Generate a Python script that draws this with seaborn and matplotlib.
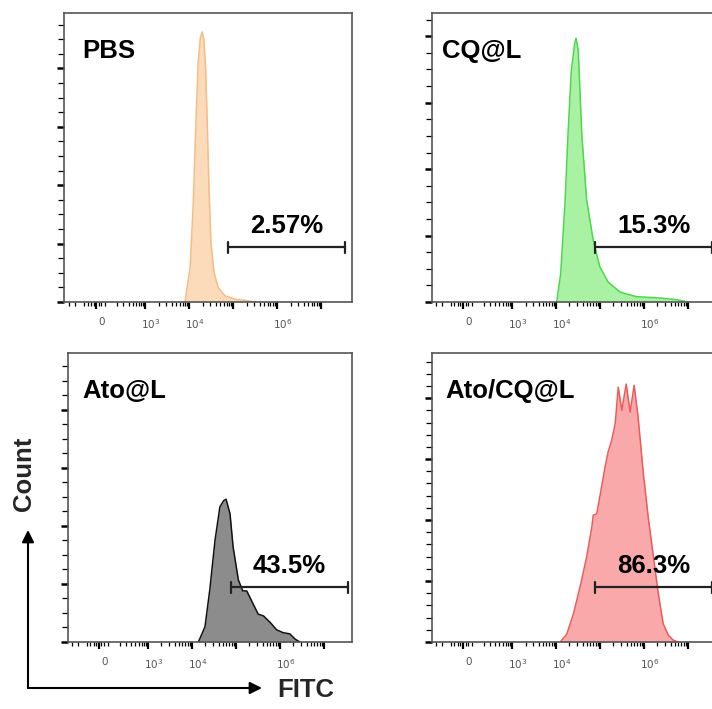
import numpy as np
import pandas as pd
import matplotlib
matplotlib.use("Agg")
import matplotlib.pyplot as plt
from matplotlib.patches import FancyArrowPatch
from matplotlib.ticker import MultipleLocator
from matplotlib.transforms import ScaledTranslation
import seaborn as sns

pbs_log = [3.90, 4.02, 4.09, 4.15, 4.20, 4.25, 4.29, 4.33, 4.37, 4.41, 4.45, 4.49, 4.56, 4.65, 4.81, 5.04, 5.38, 5.49]
pbs_count = [0, 120, 343, 617, 820, 905, 925, 900, 800, 600, 377, 206, 103, 51, 21, 10, 3, 0]

cq_log = [4.01, 4.10, 4.20, 4.27, 4.34, 4.42, 4.45, 4.50, 4.58, 4.69, 4.84, 4.99, 5.18, 5.45, 5.60, 5.83, 6.36, 6.74, 7.00]
cq_count = [0, 42, 150, 256, 346, 390, 397, 379, 253, 154, 93, 53, 30, 15, 12, 8, 6, 3.5, 0]

ato_log = [4.14, 4.29, 4.40, 4.52, 4.63, 4.72, 4.77, 4.86, 4.93, 5.05, 5.15, 5.24, 5.39, 5.50, 5.62, 5.77, 5.92, 6.07, 6.22, 6.34, 6.45]
ato_count = [0, 26, 90, 176, 233, 244, 246, 221, 164, 107, 88, 88, 65, 48, 45, 34, 21, 16, 14, 5, 0]

atocq_log = [4.09, 4.24, 4.39, 4.54, 4.69, 4.81, 4.84, 4.92, 4.99, 5.11, 5.18, 5.26, 5.34, 5.41,
             5.49, 5.59, 5.68, 5.77, 5.86, 5.98, 6.09, 6.21, 6.32, 6.43, 6.55, 6.66, 6.77]
atocq_count = [0, 13, 46, 90, 139, 189, 208, 210, 238, 287, 312, 331, 358, 418,
               380, 423, 377, 421, 369, 276, 205, 139, 79, 30, 11, 3, 0]

samples = ["PBS", "CQ@L", "Ato@L", "Ato/CQ@L"]
percents = ["2.57%", "15.3%", "43.5%", "86.3%"]
gate = [7.6e4, 3.5e7]

# Eje x biexponencial (como FlowJo)
xtick_vals = [0, 1e3, 1e4, 1e5, 1e6, 1e7]
xtick_labels = ["0", r"$10^3$", r"$10^4$", "", r"$10^6$", ""]
xminor_vals = [-300, -200, -100, -70, -40, -20, 20, 40, 70] + \
    [k * 10 ** d for d in range(2, 7) for k in range(2, 10)]

df = pd.concat([
    pd.DataFrame({"sample": "PBS", "fitc": np.power(10.0, pbs_log), "count": pbs_count}),
    pd.DataFrame({"sample": "CQ@L", "fitc": np.power(10.0, cq_log), "count": cq_count}),
    pd.DataFrame({"sample": "Ato@L", "fitc": np.power(10.0, ato_log), "count": ato_count}),
    pd.DataFrame({"sample": "Ato/CQ@L", "fitc": np.power(10.0, atocq_log), "count": atocq_count}),
])

sns.set_theme(style="ticks")
plt.rcParams["font.family"] = ["Liberation Sans", "DejaVu Sans"]

W = 152.0


def fwd(x):
    return np.arcsinh(np.asarray(x, dtype=float) / W) / np.log(10)


def inv(s):
    return W * np.sinh(np.asarray(s, dtype=float) * np.log(10))


# colores, límites y posiciones de cada panel
fills = {"PBS": "#FCDBBA", "CQ@L": "#A9F2A3", "Ato@L": "#8C8C8C", "Ato/CQ@L": "#F9A9A9"}
edges = {"PBS": "#F4BC86", "CQ@L": "#4FD64F", "Ato@L": "#111111", "Ato/CQ@L": "#EC5B5B"}
ylims = {"PBS": (990, 200, 50), "CQ@L": (435, 100, 25), "Ato@L": (498, 100, 25), "Ato/CQ@L": (474, 100, 20)}
xlims = {"PBS": (-395, 5.0e7), "CQ@L": (-370, 5.0e7), "Ato@L": (-370, 4.3e7), "Ato/CQ@L": (-370, 5.0e7)}
rects = {
    "PBS": [64 / 712, 407 / 709, 288 / 712, 289 / 709],
    "CQ@L": [432 / 712, 407 / 709, 287 / 712, 289 / 709],
    "Ato@L": [68 / 712, 67 / 709, 284 / 712, 289 / 709],
    "Ato/CQ@L": [432 / 712, 67 / 709, 287 / 712, 289 / 709],
}
title_x = {"PBS": 0.062, "CQ@L": 0.035, "Ato@L": 0.049, "Ato/CQ@L": 0.045}

fig = plt.figure(figsize=(7.12, 7.09), dpi=100)

for name, pct in zip(samples, percents):
    ax = fig.add_axes(rects[name])
    ax.set_xscale("function", functions=(fwd, inv))
    d = df[df["sample"] == name]

    ax.fill_between(d["fitc"], 0, d["count"], color=fills[name], lw=0)
    sns.lineplot(data=d, x="fitc", y="count", color=edges[name], lw=1.1, ax=ax, sort=False)

    ax.set_xlim(*xlims[name])
    top, major, minor = ylims[name]
    ax.set_ylim(0, top)
    ax.yaxis.set_major_locator(MultipleLocator(major))
    ax.yaxis.set_minor_locator(MultipleLocator(minor))
    ax.set_xticks(xtick_vals)
    ax.set_xticklabels(xtick_labels, family="DejaVu Sans")
    ax.set_xticks(xminor_vals, minor=True)
    ax.set_xlabel("")
    ax.set_ylabel("")

    ax.tick_params(axis="x", which="major", direction="out", length=5, width=1.6,
                   labelsize=7.5, labelcolor="#555555", color="black", pad=6)
    ax.tick_params(axis="x", which="minor", direction="out", length=3, width=0.9, color="black")
    ax.tick_params(axis="y", which="major", direction="out", length=5, width=1.8,
                   labelleft=False, color="black")
    ax.tick_params(axis="y", which="minor", direction="out", length=4, width=0.9, color="black")
    # las etiquetas del eje x aparecen algo desplazadas a la derecha
    shift = ScaledTranslation(4 / 72, 0, fig.dpi_scale_trans)
    for lab in ax.get_xticklabels():
        lab.set_transform(lab.get_transform() + shift)
    for sp in ax.spines.values():
        sp.set_color("#555555")
        sp.set_linewidth(1.2)

    # nombre de la muestra
    ax.text(title_x[name], 0.845, name, transform=ax.transAxes, ha="left", va="baseline",
            fontsize=18.5, fontweight="bold", color="black")

    # compuerta con porcentaje
    tr = ax.get_xaxis_transform()
    ax.plot(gate, [0.19, 0.19], transform=tr, color="#222222", lw=1.6, clip_on=False)
    for g in gate:
        ax.plot([g, g], [0.171, 0.209], transform=tr, color="#222222", lw=1.6, clip_on=False)
    xc = inv((fwd(gate[0]) + fwd(gate[1])) / 2)
    ax.text(xc, 0.238, pct, transform=tr, ha="center", va="baseline",
            fontsize=18.5, fontweight="bold", color="black")

# flechas de los ejes
origin = (28 / 712, 21 / 709)
fig.add_artist(FancyArrowPatch(origin, (28 / 712, 179 / 709), transform=fig.transFigure,
                               arrowstyle="-|>", mutation_scale=18, lw=1.5, color="black",
                               shrinkA=0, shrinkB=0))
fig.add_artist(FancyArrowPatch(origin, (262 / 712, 21 / 709), transform=fig.transFigure,
                               arrowstyle="-|>", mutation_scale=18, lw=1.5, color="black",
                               shrinkA=0, shrinkB=0))
fig.text(24 / 712, (709 - 474) / 709, "Count", rotation=90, ha="center", va="center",
         fontsize=18.5, fontweight="bold")
fig.text(277 / 712, 12 / 709, "FITC", ha="left", va="baseline", fontsize=18.5, fontweight="bold")

fig.savefig("out.png", dpi=100)
plt.close(fig)
